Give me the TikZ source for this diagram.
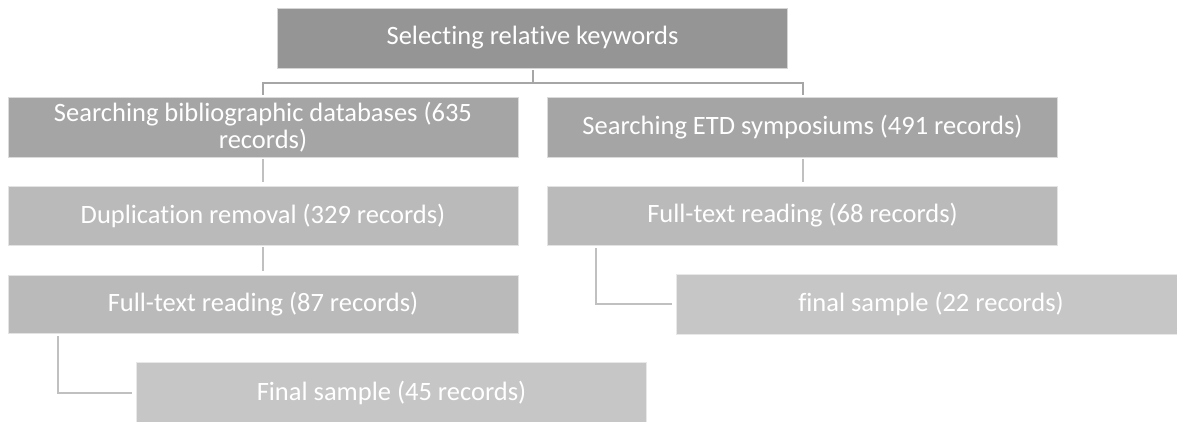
\documentclass[tikz,border=0pt]{standalone}
\usepackage{fontspec}
\setmainfont[Ligatures={NoCommon}]{Carlito}
\usetikzlibrary{calc}
\definecolor{cTop}{HTML}{959595}
\definecolor{cOne}{HTML}{A5A5A5}
\definecolor{cTwo}{HTML}{BABABA}
\definecolor{cThree}{HTML}{C6C6C6}
\definecolor{lnA}{HTML}{A6A6A6}
\definecolor{lnB}{HTML}{C0C0C0}
\tikzset{
  boxbase/.style={rectangle, inner sep=0pt, minimum width=510pt, minimum height=60pt,
    text=white, align=center, font=\fontsize{26.5}{27}\selectfont, draw=white!60!#1, line width=0.8pt, fill=#1},
  toplevel/.style={boxbase=cTop},
  levelone/.style={boxbase=cOne},
  leveltwo/.style={boxbase=cTwo},
  levelthree/.style={boxbase=cThree},
  linkA/.style={draw=lnA, line width=2pt},
  linkB/.style={draw=lnB, line width=2pt},
}
\begin{document}
\begin{tikzpicture}[x=1pt,y=-1pt]
\fill[white] (0,0) rectangle (1177,421);
\clip (0,0) rectangle (1177,421);
\node[toplevel] (top) at (532.5,38) {Selecting relative keywords};
\node[levelone] (L1) at (263,127) {Searching bibliographic databases (635\\records)};
\node[levelone] (R1) at (802.5,127) {Searching ETD symposiums (491 records)};
\node[leveltwo, minimum height=59pt] (L2) at (263,215.5) {Duplication removal (329 records)};
\node[leveltwo, minimum height=59pt] (R2) at (802.5,215.5) {Full-text reading (68 records)};
\node[leveltwo, minimum height=58pt] (L3) at (263,304) {Full-text reading (87 records)};
\node[levelthree] (R3) at (931,304) {final sample (22 records)};
\node[levelthree] (L4) at (391.5,392.5) {Final sample (45 records)};
\coordinate (fork) at ($(top.south)+(0,15)$);
\draw[linkA, shorten <=2pt] (top.south) -- (fork);
\draw[linkA, shorten >=2pt] (fork) -| (L1.north);
\draw[linkA, shorten >=2pt] (fork) -| (R1.north);
\draw[linkB, shorten <=2pt, shorten >=4pt] (L1.south) -- (L2.north);
\draw[linkB, shorten <=2pt, shorten >=4pt] (R1.south) -- (R2.north);
\draw[linkB, shorten <=2pt, shorten >=4pt] (L2.south) -- (L3.north);
\draw[linkB, shorten <=3pt, shorten >=4pt] ($(L3.south west)+(50,0)$) |- (L4.west);
\draw[linkB, shorten <=3pt, shorten >=4pt] ($(R2.south west)+(49,0)$) |- (R3.west);
\end{tikzpicture}
\end{document}
